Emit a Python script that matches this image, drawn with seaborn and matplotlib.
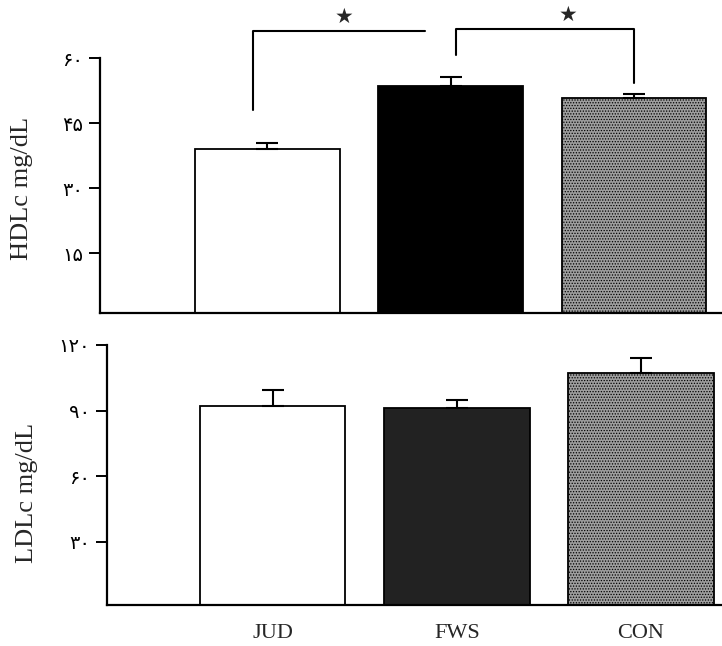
import matplotlib
matplotlib.use("Agg")
import matplotlib.pyplot as plt
import seaborn as sns
import pandas as pd

# values (mean, upper SE)
groups = ["JUD", "FWS", "CON"]
hdl_mean = [39.0, 53.5, 50.8]
hdl_err = [1.4, 2.1, 0.9]
ldl_mean = [92.0, 91.0, 107.0]
ldl_err = [7.5, 4.0, 7.0]

hdl_ticks = [15, 30, 45, 60]
hdl_ticklabels = ["۱۵", "۳۰", "۴۵", "۶۰"]
ldl_ticks = [30, 60, 90, 120]
ldl_ticklabels = ["۳۰", "۶۰", "۹۰", "۱۲۰"]

# significance brackets on the HDL panel: (x points, y points), star position
brackets = [
    ([-0.08, -0.08, 0.86], [48.0, 66.2, 66.2]),
    ([1.03, 1.03, 2.0, 2.0], [60.7, 66.7, 66.7, 54.2]),
]
stars = [(0.42, 69.5), (1.64, 69.9)]

sns.set_style("ticks")
plt.rcParams["font.family"] = ["Liberation Serif", "DejaVu Sans"]
plt.rcParams["hatch.linewidth"] = 0.6

W, H = 722, 646
fig = plt.figure(figsize=(W / 100, H / 100), dpi=100)
ax1 = fig.add_axes([0.1385, 0.5155, 0.8615, 0.3945])
ax2 = fig.add_axes([0.148, 0.0635, 0.852, 0.4025])


def draw_panel(ax, means, errs, colors, ticks, ticklabels, ylim):
    df = pd.DataFrame({"group": groups, "value": means})
    sns.barplot(data=df, x="group", y="value", hue="group", palette=colors,
                legend=False, width=0.79, ax=ax, saturation=1)
    for i, p in enumerate(ax.patches):
        p.set_edgecolor("black")
        p.set_linewidth(1.3)
        if groups[i] == "CON":
            p.set_hatch("......")
    ax.errorbar(range(len(groups)), means, yerr=[[0] * len(errs), errs],
                fmt="none", ecolor="black", elinewidth=1.5, capsize=8, capthick=1.5)
    ax.set_ylim(*ylim)
    ax.set_yticks(ticks)
    ax.set_yticklabels(ticklabels, family=["DejaVu Sans"], fontsize=14)
    ax.set_ylabel("")
    ax.set_xlabel("")
    sns.despine(ax=ax)
    for s in ["left", "bottom"]:
        ax.spines[s].set_linewidth(1.6)
        ax.spines[s].set_color("black")
    ax.tick_params(axis="y", length=8, width=1.4, pad=4, colors="black")


draw_panel(ax1, hdl_mean, hdl_err, ["#ffffff", "#000000", "#9e9e9e"],
           hdl_ticks, hdl_ticklabels, (1.2, 60))
ax1.set_xlim(-0.913, 2.48)
ax1.set_xticks([])

draw_panel(ax2, ldl_mean, ldl_err, ["#ffffff", "#222222", "#9e9e9e"],
           ldl_ticks, ldl_ticklabels, (1.2, 120))
ax2.set_xlim(-0.90, 2.44)
ax2.tick_params(axis="x", length=0, pad=14, labelsize=16)

for xs, ys in brackets:
    ax1.plot(xs, ys, color="black", lw=1.5, clip_on=False)
for sx, sy in stars:
    ax1.text(sx, sy, "★", family=["DejaVu Sans"], fontsize=15, ha="center",
             va="center", clip_on=False)

# y-axis titles, placed in figure pixels
fig.text(22 / W, 1 - 188 / H, "HDLc mg/dL", rotation=90, fontsize=19,
         ha="center", va="center")
fig.text(27 / W, 1 - 493 / H, "LDLc mg/dL", rotation=90, fontsize=19,
         ha="center", va="center")

fig.savefig("out.png", dpi=100)
